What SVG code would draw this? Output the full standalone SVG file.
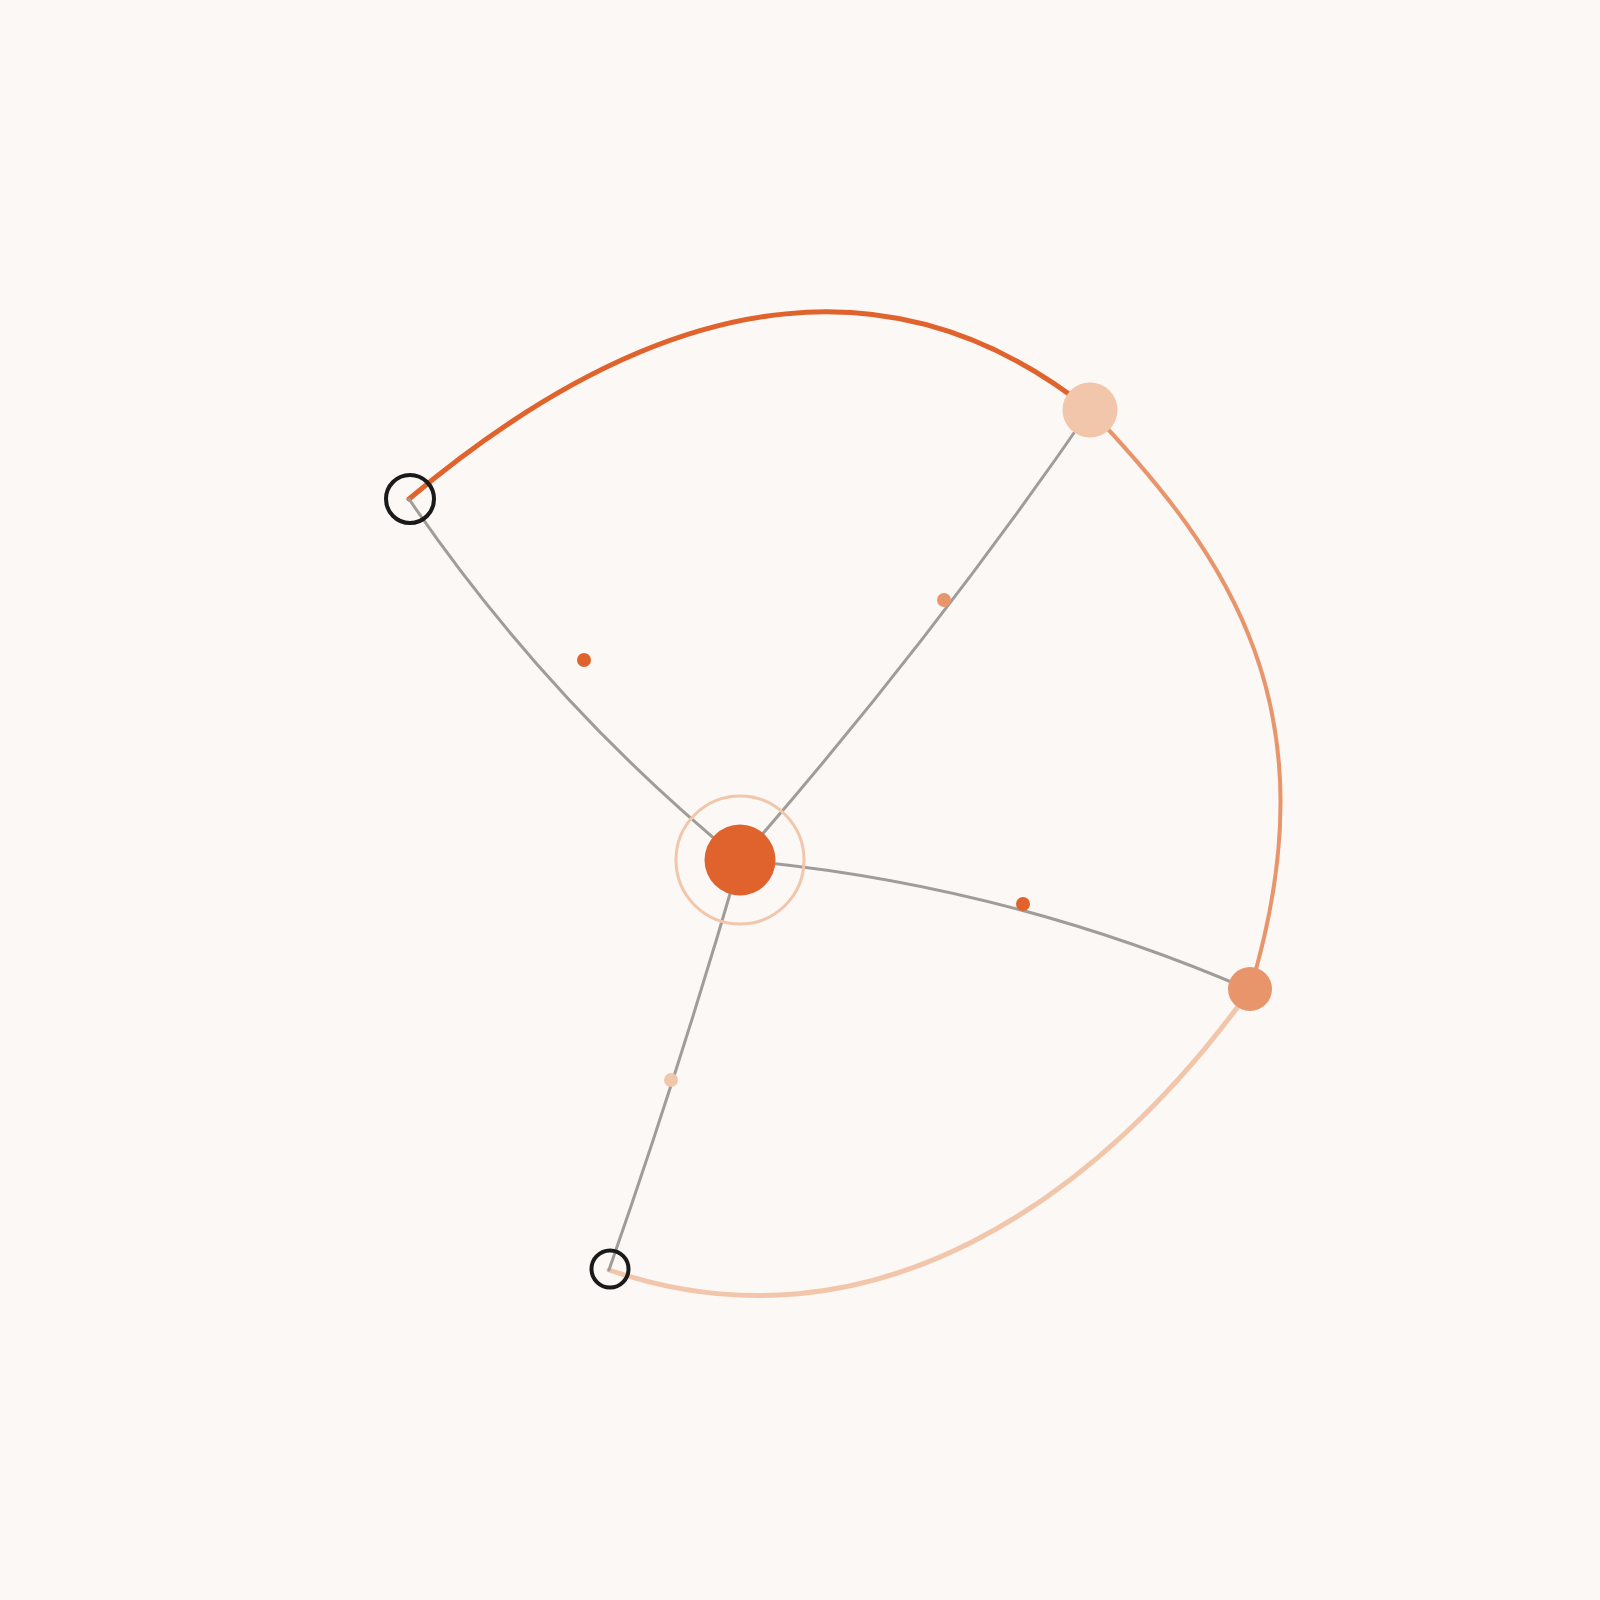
<svg xmlns="http://www.w3.org/2000/svg" width="1600" height="1600" viewBox="0 0 1600 1600">
<style>
.bg{fill:#fbf8f5}
.e{fill:none;stroke-linecap:round}
.g{stroke:#a09c98;stroke-width:3}
.o1{stroke:#e0622c;stroke-width:5}
.o2{stroke:#e8956c;stroke-width:4}
.o3{stroke:#f2c6aa;stroke-width:5}
.ring{fill:none;stroke:#1a1a1a;stroke-width:4}
</style>
<rect class="bg" x="0" y="0" width="1600" height="1600"/>
<g id="connectors">
<path class="e o1" d="M409,499 C685,267 911,267 1090,410"/>
<path class="e o2" d="M1090,410 C1230,557 1335,710 1250,990"/>
<path class="e o3" d="M1250,990 C1100,1200 870,1360 609,1270"/>
<path class="e g" d="M740,860 Q548,703 409,499"/>
<path class="e g" d="M740,860 Q928,645 1090,410"/>
<path class="e g" d="M740,860 Q1005,884 1250,990"/>
<path class="e g" d="M740,860 Q680,1067 609,1270"/>
</g>
<g id="dots">
<circle cx="584" cy="660" r="7" fill="#e0622c"/>
<circle cx="944" cy="600" r="7" fill="#e8956c"/>
<circle cx="1023" cy="904" r="7" fill="#e0622c"/>
<circle cx="671" cy="1080" r="7" fill="#f2c6aa"/>
</g>
<g id="node-center">
<circle cx="740" cy="860" r="64" fill="none" stroke="#f2c6aa" stroke-width="3"/>
<circle cx="740" cy="860" r="35.5" fill="#e0622c"/>
</g>
<g id="node-left">
<circle class="ring" cx="410" cy="499" r="24"/>
</g>
<g id="node-bottom">
<circle class="ring" cx="610" cy="1269" r="18.5"/>
</g>
<g id="node-topright">
<circle cx="1090" cy="410" r="27.5" fill="#f2c6aa"/>
</g>
<g id="node-right">
<circle cx="1250" cy="989" r="22" fill="#e8956c"/>
</g>
</svg>
